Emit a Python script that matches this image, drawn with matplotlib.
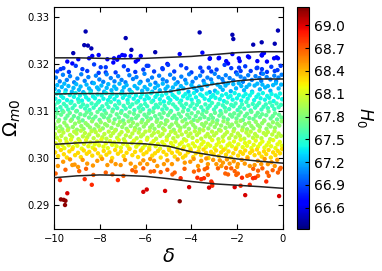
import numpy as np
import matplotlib.pyplot as plt

# contour lines of the (delta, Omega_m0) plane
line_delta = [-10, -9, -8, -7, -6, -5, -4, -3, -2, -1, 0]
outer_upper = [0.3213, 0.3213, 0.3212, 0.3211, 0.3212, 0.3214, 0.3216, 0.3220, 0.3224, 0.3226, 0.3226]
inner_upper = [0.3136, 0.3137, 0.3137, 0.3137, 0.3138, 0.3141, 0.3149, 0.3157, 0.3164, 0.3168, 0.3168]
inner_lower = [0.3029, 0.3032, 0.3034, 0.3032, 0.3030, 0.3025, 0.3013, 0.3005, 0.2998, 0.2993, 0.2989]
outer_lower = [0.2958, 0.2962, 0.2964, 0.2963, 0.2961, 0.2956, 0.2950, 0.2945, 0.2942, 0.2939, 0.29355]

# chain points (delta, Omega_m0), grouped by horizontal slice; H0 per slice
pts_a = [(-8.62, .3269), (-8.68, .3240), (-8.52, .3239), (-8.37, .3233), (-6.87, .3255), (-6.62, .3230),
         (-5.58, .3225), (-3.64, .3267), (-2.21, .3262), (-2.17, .3253), (-0.22, .3271), (-1.30, .3241),
         (-0.93, .3246), (-0.36, .3243), (-9.16, .3223)]
pts_b = [(-7.02, .3219), (-6.91, .3218), (-7.16, .3215), (-8.47, .3212), (-8.33, .3217), (-8.05, .3219),
         (-7.67, .3210), (-7.38, .3212), (-6.21, .3217), (-6.65, .3217), (-9.42, .3205), (-8.94, .3210),
         (-9.20, .3201), (-7.41, .3203), (-7.24, .3209), (-6.43, .3205), (-6.33, .3209), (-5.05, .3200),
         (-4.51, .3221), (-3.52, .3224), (-2.21, .3221), (-0.87, .3223), (-0.92, .3218), (-0.39, .3212),
         (-0.22, .3212), (-3.20, .3211), (-2.81, .3212), (-2.48, .3206), (-1.93, .3212), (-1.89, .3206),
         (-1.53, .3216), (-1.12, .3206), (-0.70, .3205), (-2.40, .3201), (-3.19, .3212), (-2.79, .3213),
         (-1.48, .3214), (-0.93, .3219), (-0.83, .3223), (-0.28, .3214)]
pts_c = [(-9.71, .3189), (-9.59, .3191), (-9.86, .3184), (-9.05, .3196), (-8.25, .3199), (-7.96, .3193),
         (-7.74, .3193), (-6.77, .3187), (-5.88, .3196), (-5.63, .3184), (-5.27, .3191), (-8.76, .3189),
         (-7.74, .3182), (-7.31, .3182), (-5.02, .3198), (-4.22, .3191), (-3.61, .3192), (-3.52, .3184),
         (-3.24, .3192), (-3.13, .3184), (-2.26, .3191), (-1.92, .3192), (-1.85, .3185), (-1.41, .3185),
         (-1.12, .3192), (-0.92, .3189), (-0.95, .3180), (-0.51, .3194), (-0.36, .3185), (-2.55, .3198),
         (-5.95, .3196), (-5.25, .3189), (-0.24, .3187), (-9.35, .3183), (-8.55, .3185), (-8.05, .3181),
         (-6.95, .3195), (-6.45, .3183), (-6.10, .3188), (-4.75, .3184), (-4.45, .3197), (-4.00, .3182),
         (-2.90, .3188), (-2.05, .3182), (-1.65, .3195), (-0.70, .3183), (-0.10, .3196), (-1.15, .3191)]
pts_d = [(-9.92, .3171), (-9.75, .3163), (-9.61, .3177), (-9.44, .3166), (-9.30, .3174), (-9.12, .3161),
         (-8.98, .3169), (-8.81, .3178), (-8.66, .3164), (-8.50, .3172), (-8.33, .3160), (-8.17, .3175),
         (-8.02, .3167), (-7.85, .3162), (-7.70, .3178), (-7.52, .3170), (-7.36, .3163), (-7.20, .3174),
         (-7.05, .3166), (-6.88, .3161), (-6.71, .3176), (-6.55, .3168), (-6.40, .3172), (-6.22, .3162),
         (-6.05, .3179), (-5.90, .3165), (-5.72, .3171), (-5.57, .3160), (-5.41, .3175), (-5.25, .3167),
         (-5.08, .3163), (-4.93, .3177), (-4.76, .3169), (-4.60, .3161), (-4.44, .3173), (-4.27, .3166),
         (-4.10, .3178), (-3.95, .3162), (-3.80, .3170), (-3.62, .3175), (-3.47, .3164), (-3.30, .3171),
         (-3.14, .3167), (-2.98, .3179), (-2.81, .3172), (-2.65, .3168), (-2.50, .3176), (-2.33, .3170),
         (-2.17, .3165), (-2.00, .3178), (-1.85, .3173), (-1.68, .3169), (-1.52, .3176), (-1.36, .3166),
         (-1.20, .3174), (-1.03, .3170), (-0.87, .3179), (-0.71, .3172), (-0.55, .3167), (-0.38, .3175),
         (-0.20, .3171), (-0.06, .3177), (-1.75, .3162), (-0.95, .3164), (-2.60, .3161), (-0.30, .3163)]
pts_e = [(-9.97, .3147), (-9.86, .3155), (-9.79, .3142), (-9.66, .3151), (-9.55, .3158), (-9.49, .3144),
         (-9.37, .3153), (-9.22, .3141), (-9.15, .3149), (-9.03, .3157), (-8.91, .3145), (-8.84, .3152),
         (-8.72, .3140), (-8.58, .3156), (-8.47, .3148), (-8.39, .3143), (-8.26, .3159), (-8.12, .3150),
         (-8.05, .3146), (-7.93, .3154), (-7.81, .3141), (-7.70, .3149), (-7.63, .3157), (-7.49, .3144),
         (-7.37, .3152), (-7.28, .3147), (-7.14, .3158), (-7.02, .3142), (-6.95, .3150), (-6.83, .3155),
         (-6.70, .3145), (-6.61, .3140), (-6.48, .3153), (-6.36, .3148), (-6.27, .3159), (-6.15, .3143),
         (-6.04, .3151), (-5.92, .3146), (-5.80, .3156), (-5.71, .3141), (-5.59, .3149), (-5.46, .3154),
         (-5.38, .3144), (-5.25, .3158), (-5.13, .3147), (-5.04, .3152), (-4.90, .3142), (-4.81, .3150),
         (-4.69, .3157), (-4.57, .3145), (-4.46, .3153), (-4.35, .3148), (-4.22, .3159), (-4.13, .3141),
         (-4.00, .3155), (-3.89, .3149), (-3.77, .3143), (-3.66, .3152), (-3.55, .3146), (-3.43, .3158),
         (-3.31, .3154), (-3.20, .3140), (-3.09, .3159), (-2.97, .3143), (-2.86, .3156), (-2.74, .3151),
         (-2.63, .3145), (-2.51, .3154), (-2.40, .3159), (-2.28, .3142), (-2.17, .3157), (-2.05, .3148),
         (-1.93, .3159), (-1.82, .3153), (-1.70, .3144), (-1.59, .3151), (-1.47, .3156), (-1.35, .3141),
         (-1.24, .3154), (-1.12, .3158), (-1.01, .3146), (-0.90, .3156), (-0.78, .3150), (-0.66, .3153),
         (-0.55, .3143), (-0.43, .3155), (-0.31, .3159), (-0.19, .3148), (-0.08, .3156)]
pts_f = [(-9.94, .3126), (-9.88, .3137), (-9.77, .3121), (-9.69, .3132), (-9.60, .3128), (-9.51, .3139),
         (-9.43, .3123), (-9.31, .3134), (-9.24, .3120), (-9.13, .3130), (-9.06, .3138), (-8.95, .3125),
         (-8.87, .3133), (-8.78, .3122), (-8.66, .3136), (-8.60, .3129), (-8.49, .3124), (-8.41, .3139),
         (-8.30, .3131), (-8.21, .3127), (-8.10, .3135), (-8.03, .3121), (-7.92, .3133), (-7.84, .3126),
         (-7.73, .3138), (-7.64, .3123), (-7.55, .3130), (-7.45, .3136), (-7.36, .3125), (-7.26, .3132),
         (-7.18, .3120), (-7.07, .3137), (-6.99, .3128), (-6.90, .3134), (-6.79, .3123), (-6.71, .3131),
         (-6.60, .3139), (-6.52, .3126), (-6.42, .3133), (-6.33, .3121), (-6.22, .3129), (-6.15, .3136),
         (-6.04, .3124), (-5.95, .3132), (-5.86, .3127), (-5.76, .3138), (-5.67, .3122), (-5.57, .3130),
         (-5.49, .3135), (-5.38, .3125), (-5.29, .3133), (-5.20, .3120), (-5.10, .3137), (-5.01, .3128),
         (-4.92, .3123), (-4.82, .3134), (-4.73, .3130), (-4.63, .3126), (-4.55, .3139), (-4.45, .3122),
         (-4.36, .3131), (-4.26, .3136), (-4.17, .3127), (-4.07, .3133), (-3.99, .3124), (-3.89, .3138),
         (-3.80, .3129), (-3.70, .3121), (-3.61, .3135), (-3.52, .3132), (-3.42, .3126), (-3.33, .3137),
         (-3.23, .3123), (-3.14, .3130), (-3.05, .3134), (-2.95, .3128), (-2.86, .3139), (-2.76, .3125),
         (-2.67, .3133), (-2.58, .3121), (-2.48, .3136), (-2.39, .3129), (-2.29, .3132), (-2.20, .3124),
         (-2.11, .3138), (-2.01, .3127), (-1.92, .3134), (-1.82, .3122), (-1.73, .3131), (-1.63, .3136),
         (-1.54, .3126), (-1.45, .3133), (-1.35, .3139), (-1.26, .3123), (-1.16, .3130), (-1.07, .3135),
         (-0.98, .3127), (-0.88, .3138), (-0.79, .3124), (-0.69, .3132), (-0.60, .3128), (-0.50, .3136),
         (-0.41, .3121), (-0.32, .3133), (-0.22, .3129), (-0.13, .3137), (-0.04, .3125)]
pts_g = [(-9.98, .3113), (-9.90, .3104), (-9.83, .3118), (-9.72, .3108), (-9.64, .3101), (-9.57, .3115),
         (-9.46, .3110), (-9.38, .3103), (-9.28, .3117), (-9.19, .3106), (-9.10, .3112), (-9.00, .3100),
         (-8.92, .3119), (-8.83, .3109), (-8.73, .3114), (-8.64, .3105), (-8.55, .3111), (-8.45, .3102),
         (-8.36, .3116), (-8.27, .3107), (-8.17, .3113), (-8.08, .3118), (-7.99, .3104), (-7.89, .3110),
         (-7.80, .3101), (-7.70, .3115), (-7.62, .3108), (-7.52, .3119), (-7.43, .3103), (-7.33, .3112),
         (-7.24, .3106), (-7.15, .3116), (-7.05, .3100), (-6.96, .3111), (-6.87, .3105), (-6.77, .3117),
         (-6.68, .3109), (-6.58, .3114), (-6.49, .3102), (-6.40, .3118), (-6.30, .3107), (-6.21, .3112),
         (-6.11, .3104), (-6.02, .3115), (-5.93, .3110), (-5.83, .3101), (-5.74, .3119), (-5.64, .3106),
         (-5.55, .3113), (-5.46, .3108), (-5.36, .3116), (-5.27, .3103), (-5.17, .3111), (-5.08, .3105),
         (-4.98, .3117), (-4.89, .3100), (-4.80, .3114), (-4.70, .3109), (-4.61, .3104), (-4.51, .3118),
         (-4.42, .3112), (-4.33, .3107), (-4.23, .3115), (-4.14, .3102), (-4.04, .3110), (-3.95, .3116),
         (-3.86, .3105), (-3.76, .3113), (-3.67, .3119), (-3.57, .3108), (-3.48, .3101), (-3.39, .3114),
         (-3.29, .3106), (-3.20, .3111), (-3.10, .3117), (-3.01, .3103), (-2.92, .3109), (-2.82, .3115),
         (-2.73, .3100), (-2.63, .3112), (-2.54, .3107), (-2.45, .3118), (-2.35, .3104), (-2.26, .3113),
         (-2.16, .3110), (-2.07, .3116), (-1.98, .3102), (-1.88, .3108), (-1.79, .3114), (-1.69, .3105),
         (-1.60, .3119), (-1.51, .3111), (-1.41, .3101), (-1.32, .3115), (-1.22, .3107), (-1.13, .3112),
         (-1.04, .3117), (-0.94, .3103), (-0.85, .3109), (-0.75, .3114), (-0.66, .3106), (-0.57, .3118),
         (-0.47, .3111), (-0.38, .3104), (-0.28, .3116), (-0.19, .3108), (-0.09, .3113)]
pts_h = [(-9.95, .3087), (-9.86, .3095), (-9.78, .3081), (-9.69, .3092), (-9.59, .3098), (-9.50, .3084),
         (-9.41, .3090), (-9.31, .3096), (-9.22, .3082), (-9.13, .3089), (-9.03, .3099), (-8.94, .3085),
         (-8.85, .3093), (-8.75, .3080), (-8.66, .3091), (-8.57, .3097), (-8.47, .3086), (-8.38, .3094),
         (-8.29, .3083), (-8.19, .3088), (-8.10, .3098), (-8.01, .3081), (-7.91, .3092), (-7.82, .3087),
         (-7.73, .3095), (-7.63, .3084), (-7.54, .3090), (-7.45, .3099), (-7.35, .3082), (-7.26, .3093),
         (-7.17, .3086), (-7.07, .3096), (-6.98, .3080), (-6.89, .3091), (-6.79, .3088), (-6.70, .3097),
         (-6.61, .3083), (-6.51, .3094), (-6.42, .3085), (-6.33, .3090), (-6.23, .3099), (-6.14, .3081),
         (-6.05, .3092), (-5.95, .3087), (-5.86, .3095), (-5.77, .3084), (-5.67, .3098), (-5.58, .3089),
         (-5.49, .3082), (-5.39, .3093), (-5.30, .3086), (-5.21, .3096), (-5.11, .3080), (-5.02, .3091),
         (-4.93, .3097), (-4.83, .3085), (-4.74, .3090), (-4.65, .3083), (-4.55, .3094), (-4.46, .3088),
         (-4.37, .3099), (-4.27, .3082), (-4.18, .3092), (-4.09, .3086), (-3.99, .3095), (-3.90, .3081),
         (-3.81, .3089), (-3.71, .3097), (-3.62, .3084), (-3.53, .3093), (-3.43, .3087), (-3.34, .3098),
         (-3.25, .3083), (-3.15, .3091), (-3.06, .3085), (-2.97, .3096), (-2.87, .3080), (-2.78, .3090),
         (-2.69, .3094), (-2.59, .3086), (-2.50, .3099), (-2.41, .3082), (-2.31, .3092), (-2.22, .3088),
         (-2.13, .3095), (-2.03, .3084), (-1.94, .3091), (-1.85, .3097), (-1.75, .3081), (-1.66, .3089),
         (-1.57, .3094), (-1.47, .3085), (-1.38, .3098), (-1.29, .3083), (-1.19, .3090), (-1.10, .3096),
         (-1.01, .3087), (-0.91, .3093), (-0.82, .3080), (-0.73, .3091), (-0.63, .3099), (-0.54, .3084),
         (-0.45, .3089), (-0.35, .3095), (-0.26, .3082), (-0.17, .3092), (-0.07, .3086)]
pts_i = [(-9.99, .3072), (-9.91, .3064), (-9.81, .3078), (-9.73, .3067), (-9.64, .3061), (-9.55, .3075),
         (-9.45, .3069), (-9.37, .3063), (-9.27, .3079), (-9.18, .3066), (-9.08, .3073), (-9.00, .3060),
         (-8.90, .3077), (-8.81, .3068), (-8.71, .3062), (-8.62, .3074), (-8.53, .3070), (-8.43, .3065),
         (-8.34, .3078), (-8.24, .3061), (-8.15, .3071), (-8.06, .3067), (-7.96, .3076), (-7.87, .3063),
         (-7.77, .3072), (-7.68, .3069), (-7.59, .3079), (-7.49, .3064), (-7.40, .3074), (-7.30, .3060),
         (-7.21, .3070), (-7.12, .3077), (-7.02, .3066), (-6.93, .3073), (-6.83, .3062), (-6.74, .3078),
         (-6.65, .3068), (-6.55, .3075), (-6.46, .3064), (-6.36, .3071), (-6.27, .3061), (-6.18, .3076),
         (-6.08, .3067), (-5.99, .3073), (-5.89, .3079), (-5.80, .3065), (-5.71, .3070), (-5.61, .3062),
         (-5.52, .3077), (-5.42, .3068), (-5.33, .3074), (-5.24, .3063), (-5.14, .3072), (-5.05, .3079),
         (-4.95, .3066), (-4.86, .3071), (-4.77, .3060), (-4.67, .3075), (-4.58, .3069), (-4.48, .3064),
         (-4.39, .3078), (-4.30, .3067), (-4.20, .3073), (-4.11, .3062), (-4.01, .3076), (-3.92, .3070),
         (-3.83, .3065), (-3.73, .3079), (-3.64, .3061), (-3.54, .3072), (-3.45, .3068), (-3.36, .3075),
         (-3.26, .3063), (-3.17, .3071), (-3.07, .3077), (-2.98, .3066), (-2.89, .3073), (-2.79, .3060),
         (-2.70, .3069), (-2.60, .3078), (-2.51, .3064), (-2.42, .3074), (-2.32, .3067), (-2.23, .3071),
         (-2.13, .3062), (-2.04, .3076), (-1.95, .3069), (-1.85, .3079), (-1.76, .3065), (-1.66, .3072),
         (-1.57, .3061), (-1.48, .3075), (-1.38, .3068), (-1.29, .3063), (-1.19, .3077), (-1.10, .3070),
         (-1.01, .3066), (-0.91, .3074), (-0.82, .3079), (-0.72, .3062), (-0.63, .3071), (-0.54, .3067),
         (-0.44, .3076), (-0.35, .3064), (-0.25, .3073), (-0.16, .3069), (-0.06, .3078)]
pts_j = [(-9.96, .3051), (-9.87, .3043), (-9.77, .3057), (-9.68, .3047), (-9.59, .3054), (-9.49, .3041),
         (-9.40, .3059), (-9.30, .3049), (-9.21, .3045), (-9.12, .3056), (-9.02, .3052), (-8.93, .3040),
         (-8.83, .3058), (-8.74, .3046), (-8.65, .3053), (-8.55, .3044), (-8.46, .3050), (-8.36, .3057),
         (-8.27, .3042), (-8.18, .3055), (-8.08, .3048), (-7.99, .3059), (-7.89, .3044), (-7.80, .3051),
         (-7.71, .3041), (-7.61, .3056), (-7.52, .3047), (-7.42, .3053), (-7.33, .3058), (-7.24, .3043),
         (-7.14, .3050), (-7.05, .3055), (-6.95, .3040), (-6.86, .3048), (-6.77, .3057), (-6.67, .3045),
         (-6.58, .3052), (-6.48, .3059), (-6.39, .3042), (-6.30, .3054), (-6.20, .3046), (-6.11, .3050),
         (-6.01, .3056), (-5.92, .3043), (-5.83, .3058), (-5.73, .3048), (-5.64, .3053), (-5.54, .3041),
         (-5.45, .3055), (-5.36, .3047), (-5.26, .3051), (-5.17, .3059), (-5.07, .3044), (-4.98, .3049),
         (-4.89, .3056), (-4.79, .3042), (-4.70, .3053), (-4.60, .3046), (-4.51, .3058), (-4.42, .3050),
         (-4.32, .3040), (-4.23, .3055), (-4.13, .3047), (-4.04, .3052), (-3.95, .3043), (-3.85, .3057),
         (-3.76, .3049), (-3.66, .3054), (-3.57, .3041), (-3.48, .3059), (-3.38, .3046), (-3.29, .3051),
         (-3.19, .3044), (-3.10, .3056), (-3.01, .3048), (-2.91, .3053), (-2.82, .3040), (-2.72, .3058),
         (-2.63, .3045), (-2.54, .3050), (-2.44, .3055), (-2.35, .3042), (-2.25, .3049), (-2.16, .3057),
         (-2.07, .3044), (-1.97, .3052), (-1.88, .3047), (-1.78, .3059), (-1.69, .3041), (-1.60, .3054),
         (-1.50, .3048), (-1.41, .3056), (-1.31, .3043), (-1.22, .3051), (-1.13, .3046), (-1.03, .3058),
         (-0.94, .3042), (-0.84, .3053), (-0.75, .3049), (-0.66, .3055), (-0.56, .3040), (-0.47, .3050),
         (-0.37, .3057), (-0.28, .3045), (-0.19, .3052), (-0.09, .3047)]
pts_k = [(-9.93, .3031), (-9.83, .3024), (-9.74, .3037), (-9.64, .3028), (-9.55, .3021), (-9.45, .3034),
         (-9.36, .3027), (-9.26, .3039), (-9.17, .3023), (-9.07, .3032), (-8.98, .3026), (-8.88, .3036),
         (-8.79, .3020), (-8.69, .3030), (-8.60, .3038), (-8.50, .3025), (-8.41, .3033), (-8.31, .3022),
         (-8.22, .3029), (-8.12, .3035), (-8.03, .3027), (-7.93, .3039), (-7.84, .3024), (-7.74, .3031),
         (-7.65, .3021), (-7.55, .3036), (-7.46, .3028), (-7.36, .3033), (-7.27, .3025), (-7.17, .3038),
         (-7.08, .3022), (-6.98, .3030), (-6.89, .3035), (-6.79, .3026), (-6.70, .3020), (-6.60, .3032),
         (-6.51, .3037), (-6.41, .3024), (-6.32, .3029), (-6.22, .3034), (-6.13, .3021), (-6.03, .3027),
         (-5.94, .3039), (-5.84, .3023), (-5.75, .3031), (-5.65, .3036), (-5.56, .3025), (-5.46, .3030),
         (-5.37, .3020), (-5.27, .3034), (-5.18, .3028), (-5.08, .3038), (-4.99, .3022), (-4.89, .3032),
         (-4.80, .3026), (-4.70, .3035), (-4.61, .3021), (-4.51, .3029), (-4.42, .3033), (-4.32, .3024),
         (-4.23, .3037), (-4.13, .3027), (-4.04, .3020), (-3.94, .3031), (-3.85, .3025), (-3.75, .3036),
         (-3.66, .3022), (-3.56, .3029), (-3.47, .3034), (-3.37, .3023), (-3.28, .3030), (-3.18, .3026),
         (-3.09, .3038), (-2.99, .3021), (-2.90, .3028), (-2.80, .3033), (-2.71, .3024), (-2.61, .3036),
         (-2.52, .3020), (-2.42, .3027), (-2.33, .3031), (-2.23, .3025), (-2.14, .3035), (-2.04, .3022),
         (-1.95, .3029), (-1.85, .3039), (-1.76, .3023), (-1.66, .3032), (-1.57, .3026), (-1.47, .3034),
         (-1.38, .3021), (-1.28, .3028), (-1.19, .3037), (-1.09, .3024), (-1.00, .3030), (-0.90, .3035),
         (-0.81, .3022), (-0.71, .3027), (-0.62, .3033), (-0.52, .3025), (-0.43, .3038), (-0.33, .3021),
         (-0.24, .3029), (-0.14, .3034), (-0.05, .3026)]
pts_l = [(-9.95, .3012), (-9.82, .3004), (-9.70, .3017), (-9.57, .3008), (-9.44, .3001), (-9.33, .3014),
         (-9.20, .3019), (-9.08, .3006), (-8.95, .3011), (-8.83, .3002), (-8.70, .3016), (-8.57, .3009),
         (-8.46, .3013), (-8.33, .3005), (-8.21, .3018), (-8.08, .3010), (-7.96, .3003), (-7.83, .3015),
         (-7.71, .3007), (-7.58, .3012), (-7.46, .3000), (-7.33, .3017), (-7.21, .3009), (-7.08, .3014),
         (-6.96, .3004), (-6.83, .3011), (-6.71, .3019), (-6.58, .3006), (-6.46, .3013), (-6.33, .3002),
         (-6.21, .3016), (-6.09, .3008), (-5.96, .3012), (-5.84, .3018), (-5.71, .3005), (-5.59, .3010),
         (-5.46, .3015), (-5.34, .3001), (-5.22, .3013), (-5.09, .3007), (-4.97, .3017), (-4.85, .3011),
         (-4.73, .3003), (-4.61, .3014), (-4.50, .3009), (-4.38, .3019), (-4.26, .3005), (-4.15, .3012),
         (-4.03, .3016), (-3.92, .3002), (-3.81, .3010), (-3.69, .3014), (-3.58, .3006), (-3.47, .3018),
         (-3.36, .3011), (-3.25, .3000), (-3.14, .3013), (-3.03, .3008), (-2.92, .3016), (-2.81, .3004),
         (-2.70, .3012), (-2.60, .3017), (-2.49, .3007), (-2.38, .3014), (-2.28, .3001), (-2.17, .3010),
         (-2.07, .3019), (-1.96, .3005), (-1.86, .3013), (-1.75, .3009), (-1.65, .3016), (-1.55, .3002),
         (-1.44, .3011), (-1.34, .3015), (-1.24, .3006), (-1.14, .3018), (-1.04, .3010), (-0.93, .3003),
         (-0.83, .3014), (-0.73, .3008), (-0.63, .3017), (-0.53, .3001), (-0.43, .3012), (-0.33, .3006),
         (-0.23, .3015), (-0.13, .3010), (-0.04, .3019), (-4.37, .3001)]
pts_m = [(-9.83, .2983), (-8.95, .2981), (-8.55, .2988), (-7.67, .2985), (-7.31, .2987), (-7.09, .2985),
         (-8.11, .2994), (-6.65, .2988), (-6.24, .2988), (-6.10, .2995), (-5.93, .2987), (-5.63, .2994),
         (-5.49, .2983), (-5.20, .2987), (-4.85, .2987), (-4.29, .2990), (-3.71, .2983), (-3.57, .2994),
         (-3.35, .2999), (-3.28, .2987), (-2.91, .2987), (-2.76, .2995), (-2.62, .2990), (-2.33, .2988),
         (-1.97, .2987), (-1.67, .2988), (-1.45, .2983), (-1.24, .2985), (-0.95, .2987), (-0.66, .2987),
         (-0.36, .2983), (-2.69, .2983), (-9.60, .2992), (-9.30, .2997), (-9.10, .2986), (-8.75, .2996),
         (-8.30, .2984), (-7.90, .2998), (-7.50, .2993), (-6.90, .2996), (-6.45, .2981), (-5.80, .2998),
         (-5.05, .2995), (-4.60, .2997), (-4.05, .2992), (-3.90, .2998), (-3.05, .2996), (-2.45, .2997),
         (-2.15, .2993), (-1.80, .2996), (-1.10, .2994), (-0.80, .2998), (-0.50, .2991), (-0.25, .2996),
         (-1.55, .2999), (-2.00, .2981), (-9.20, .2985)]
pts_n = [(-9.93, .2967), (-8.28, .2964), (-7.74, .2969), (-7.45, .2965), (-6.58, .2974), (-6.43, .2971),
         (-5.78, .2971), (-5.63, .2972), (-5.34, .2970), (-6.97, .2962), (-4.83, .2965), (-4.73, .2969),
         (-3.89, .2971), (-3.68, .2974), (-3.42, .2976), (-3.31, .2979), (-2.84, .2978), (-2.48, .2979),
         (-2.26, .2978), (-2.11, .2972), (-3.28, .2964), (-2.52, .2967), (-2.40, .2965), (-2.04, .2964),
         (-1.97, .2967), (-1.56, .2962), (-1.45, .2964), (-1.09, .2962), (-1.09, .2973), (-0.69, .2969),
         (-0.62, .2962), (-0.22, .2969), (-0.14, .2976), (-0.10, .2979), (-9.50, .2975), (-8.90, .2972),
         (-8.60, .2977), (-6.10, .2978), (-1.30, .2977), (-0.45, .2974), (-4.30, .2977), (-5.05, .2975),
         (-0.90, .2978)]
pts_o = [(-9.74, .2953), (-8.66, .2955), (-8.35, .2943), (-7.21, .2953), (-4.47, .2957), (-3.74, .2958),
         (-3.57, .2955), (-3.45, .2957), (-3.13, .2950), (-3.09, .2946), (-1.79, .2958), (-1.31, .2957),
         (-1.21, .2958), (-0.73, .2950), (-3.09, .2941), (-1.85, .2941), (-1.45, .2943)]
pts_p = [(-9.42, .2925), (-6.10, .2928), (-5.95, .2933), (-5.15, .2930), (-1.65, .2921), (-0.17, .2919),
         (-4.10, .2938), (-3.23, .2937), (-2.11, .2938)]
pts_q = [(-9.70, .2912), (-9.58, .2911), (-9.50, .2909), (-9.52, .2900), (-4.51, .2908)]

groups = [pts_a, pts_b, pts_c, pts_d, pts_e, pts_f, pts_g, pts_h, pts_i,
          pts_j, pts_k, pts_l, pts_m, pts_n, pts_o, pts_p, pts_q]
group_h0 = [66.45, 66.65, 66.85, 67.05, 67.22, 67.4, 67.55, 67.7, 67.85,
            68.0, 68.15, 68.3, 68.5, 68.68, 68.85, 69.02, 69.2]

delta, omega, h0 = [], [], []
for pts, h in zip(groups, group_h0):
    for d, o in pts:
        delta.append(d)
        omega.append(o)
        h0.append(h)

fig = plt.figure(figsize=(3.82, 2.71), dpi=100)
ax = fig.add_axes([0.1414, 0.155, 0.5994, 0.819])
cax = fig.add_axes([0.7775, 0.155, 0.0314, 0.819])

sc = ax.scatter(delta, omega, c=h0, cmap='jet', vmin=66.32, vmax=69.24,
                s=10, linewidths=0, zorder=2)
for line in [outer_upper, inner_upper, inner_lower, outer_lower]:
    ax.plot(line_delta, line, color='#222222', lw=1.1, zorder=3)

ax.set_xlim(-10, 0)
ax.set_ylim(0.2849, 0.3321)
ax.set_xticks([-10, -8, -6, -4, -2, 0])
ax.set_yticks([0.29, 0.30, 0.31, 0.32, 0.33])
ax.set_yticklabels(['0.29', '0.30', '0.31', '0.32', '0.33'])
ax.tick_params(direction='in', top=True, right=True, labelsize=7.2, length=3.5, width=0.8)
ax.set_xlabel(r'$\delta$', fontsize=14, labelpad=2)
ax.set_ylabel(r'$\Omega_{m0}$', fontsize=14, labelpad=3)

cb = fig.colorbar(sc, cax=cax)
cb.set_ticks([66.6, 66.9, 67.2, 67.5, 67.8, 68.1, 68.4, 68.7, 69.0])
cb.set_ticklabels(['66.6', '66.9', '67.2', '67.5', '67.8', '68.1', '68.4', '68.7', '69.0'])
cb.ax.tick_params(direction='in', labelsize=10, length=3, width=0.8)
cb.outline.set_linewidth(0.8)
fig.text(0.955, 0.565, r'$H_0$', rotation=270, fontsize=12, ha='center', va='center')

fig.savefig('out.png', dpi=100)
